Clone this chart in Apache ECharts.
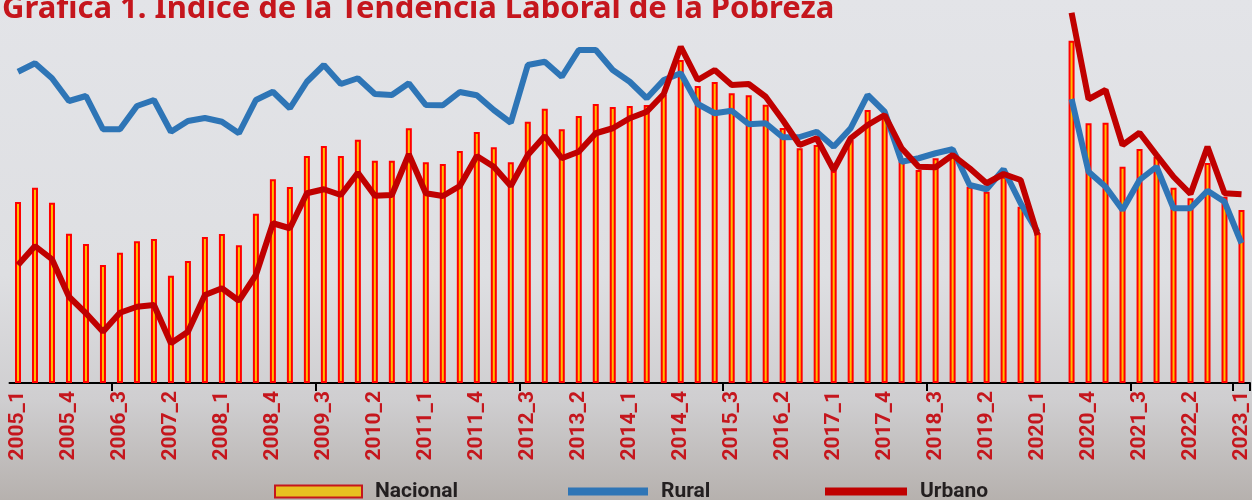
<!DOCTYPE html>
<html>
<head>
<meta charset="utf-8">
<title>Grafica 1. Indice de la Tendencia Laboral de la Pobreza</title>
<script src="https://cdn.jsdelivr.net/npm/echarts@6/dist/echarts.min.js"></script>
<style>
  html, body { margin: 0; padding: 0; }
  #chart { width: 1252px; height: 500px; }
</style>
</head>
<body>
<div id="chart"></div>
<script>
// trimestres 2005_1 ... 2023_1 (2020_2 sin dato)
const quarters = [
  '2005_1','2005_2','2005_3','2005_4','2006_1','2006_2','2006_3','2006_4',
  '2007_1','2007_2','2007_3','2007_4','2008_1','2008_2','2008_3','2008_4',
  '2009_1','2009_2','2009_3','2009_4','2010_1','2010_2','2010_3','2010_4',
  '2011_1','2011_2','2011_3','2011_4','2012_1','2012_2','2012_3','2012_4',
  '2013_1','2013_2','2013_3','2013_4','2014_1','2014_2','2014_3','2014_4',
  '2015_1','2015_2','2015_3','2015_4','2016_1','2016_2','2016_3','2016_4',
  '2017_1','2017_2','2017_3','2017_4','2018_1','2018_2','2018_3','2018_4',
  '2019_1','2019_2','2019_3','2019_4','2020_1','2020_2','2020_3','2020_4',
  '2021_1','2021_2','2021_3','2021_4','2022_1','2022_2','2022_3','2022_4',
  '2023_1'
];

const nacional = [
  0.724, 0.781, 0.721, 0.597, 0.556, 0.472, 0.521, 0.567, 0.576, 0.429,
  0.488, 0.584, 0.596, 0.551, 0.677, 0.815, 0.784, 0.908, 0.948, 0.908,
  0.973, 0.889, 0.889, 1.019, 0.883, 0.876, 0.928, 1.004, 0.943, 0.883,
  1.045, 1.097, 1.015, 1.068, 1.116, 1.104, 1.108, 1.112, 1.152, 1.292,
  1.188, 1.204, 1.159, 1.151, 1.113, 1.020, 0.939, 0.952, 0.848, 0.972,
  1.092, 1.065, 0.885, 0.852, 0.899, 0.912, 0.785, 0.765, 0.825, 0.705,
  0.599, null, 1.369, 1.039, 1.041, 0.865, 0.936, 0.905, 0.781, 0.739,
  0.880, 0.745, 0.692
];

const rural = [
  1.245, 1.279, 1.219, 1.128, 1.148, 1.015, 1.015, 1.108, 1.132, 1.005,
  1.048, 1.060, 1.045, 0.999, 1.132, 1.165, 1.099, 1.205, 1.272, 1.196,
  1.219, 1.156, 1.152, 1.199, 1.112, 1.111, 1.164, 1.151, 1.092, 1.041,
  1.272, 1.285, 1.225, 1.332, 1.332, 1.252, 1.205, 1.139, 1.212, 1.239,
  1.116, 1.079, 1.089, 1.035, 1.039, 0.983, 0.984, 1.005, 0.945, 1.019,
  1.152, 1.085, 0.885, 0.899, 0.919, 0.935, 0.792, 0.775, 0.855, 0.719,
  0.604, null, 1.136, 0.845, 0.785, 0.692, 0.812, 0.865, 0.699, 0.699,
  0.769, 0.725, 0.559
];

const urbano = [
  0.472, 0.548, 0.495, 0.345, 0.279, 0.205, 0.281, 0.305, 0.312, 0.159,
  0.205, 0.352, 0.379, 0.329, 0.432, 0.639, 0.619, 0.759, 0.775, 0.752,
  0.841, 0.749, 0.752, 0.915, 0.759, 0.748, 0.788, 0.908, 0.865, 0.788,
  0.912, 0.988, 0.899, 0.925, 0.999, 1.019, 1.059, 1.085, 1.156, 1.345,
  1.212, 1.252, 1.192, 1.196, 1.145, 1.052, 0.952, 0.979, 0.852, 0.979,
  1.032, 1.072, 0.939, 0.865, 0.863, 0.912, 0.859, 0.799, 0.836, 0.812,
  0.592, null, 1.481, 1.135, 1.172, 0.952, 1.001, 0.912, 0.825, 0.756,
  0.945, 0.759, 0.755
];

// marcas del eje (como en el original de Excel)
const tickAt = [6, 18, 30, 42, 54, 66, 72];

const RED = '#C5161D';
const legendText = { fontFamily: 'Roboto', fontWeight: 'bold', fontSize: 21, color: '#231F20', padding: [0, 0, 0, 8] };

const option = {
  backgroundColor: {
    type: 'linear', x: 0, y: 0, x2: 0, y2: 1,
    colorStops: [
      { offset: 0, color: '#E3E4E8' },
      { offset: 0.55, color: '#DEDFE2' },
      { offset: 0.8, color: '#CFCED0' },
      { offset: 1, color: '#B6B1AE' }
    ]
  },
  animation: false,
  title: {
    text: 'Grafica 1. Indice de la Tendencia Laboral de la Pobreza',
    left: -3,
    top: -11,
    textStyle: { fontFamily: 'Noto Sans', fontWeight: 'bold', fontSize: 31, color: RED }
  },
  legend: [
    { left: 269, top: 476, itemWidth: 87, itemHeight: 12, textStyle: legendText,
      data: [{ name: 'Nacional', icon: 'rect', itemStyle: { color: '#E8C020', borderColor: RED, borderWidth: 2 } }] },
    { left: 563, top: 476, itemWidth: 80, itemHeight: 8, textStyle: legendText,
      data: [{ name: 'Rural', icon: 'rect' }] },
    { left: 820, top: 476, itemWidth: 82, itemHeight: 8, textStyle: legendText,
      data: [{ name: 'Urbano', icon: 'rect' }] }
  ],
  grid: { left: 9.5, right: 1.5, top: 8, bottom: 117 },
  xAxis: {
    type: 'category',
    data: quarters,
    axisLine: { lineStyle: { color: '#000', width: 2 } },
    axisTick: {
      show: true,
      interval: (idx) => tickAt.indexOf(idx) >= 0,
      length: 8,
      lineStyle: { color: '#000', width: 2 }
    },
    axisLabel: {
      interval: 2,
      rotate: 90,
      margin: 8,
      fontFamily: 'Roboto',
      fontWeight: 'bold',
      fontSize: 21,
      color: RED
    }
  },
  yAxis: {
    type: 'value',
    min: 0,
    max: 1.5,
    show: false,
    splitLine: { show: false }
  },
  series: [
    {
      name: 'Nacional',
      type: 'bar',
      data: nacional,
      barWidth: 6,
      itemStyle: { color: '#FFC000', borderColor: '#FF0000', borderWidth: 2 }
    },
    {
      name: 'Rural',
      type: 'line',
      data: rural,
      symbol: 'none',
      connectNulls: false,
      lineStyle: { color: '#2E75B6', width: 6 },
      itemStyle: { color: '#2E75B6' }
    },
    {
      name: 'Urbano',
      type: 'line',
      data: urbano,
      symbol: 'none',
      connectNulls: false,
      lineStyle: { color: '#C00000', width: 6 },
      itemStyle: { color: '#C00000' }
    }
  ]
};

const chart = echarts.init(document.getElementById('chart'));
chart.setOption(option);
</script>
</body>
</html>
